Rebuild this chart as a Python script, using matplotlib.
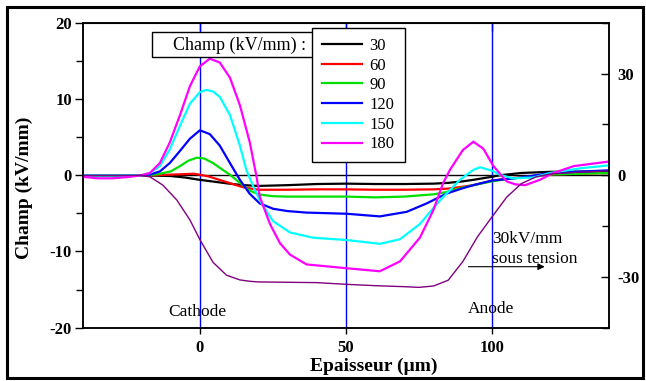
import matplotlib
matplotlib.use('Agg')
import matplotlib.pyplot as plt
from matplotlib.patches import Rectangle
from matplotlib.ticker import MultipleLocator

plt.rcParams['font.family'] = ['Liberation Serif', 'DejaVu Serif']
plt.rcParams['axes.unicode_minus'] = False

# Champ (kV/mm) en fonction de l'épaisseur (µm)
x30 = [-40, -20, -15, -10, -5, 0, 5, 10, 15, 20, 30, 40, 50, 60, 70, 80, 85, 90, 93.6, 100, 102.7, 110, 120, 140]
y30 = [0, 0, -0.05, -0.1, -0.3, -0.6, -0.85, -1.1, -1.3, -1.4, -1.3, -1.15, -1.1, -1.15, -1.15, -1.1, -1.0, -0.8, -0.6, -0.2, 0.0, 0.3, 0.45, 0.5]

x60 = [-40, -20, -15, -10, -5, -2, 0, 3, 5, 10, 15, 20, 30, 40, 50, 60, 70, 80, 85, 90, 93.6, 100, 105, 110, 120, 140]
y60 = [0, 0, 0.02, 0.08, 0.15, 0.2, 0.07, -0.15, -0.4, -1.0, -1.6, -1.9, -1.9, -1.85, -1.85, -1.9, -1.9, -1.85, -1.75, -1.5, -1.3, -0.7, -0.45, -0.25, 0.1, 0.3]

x90 = [-40, -20, -15, -10, -6.8, -4, -1.1, 1.5, 4.5, 7.5, 10.3, 13.7, 17, 20, 25, 30, 40, 50, 60, 70, 80, 84.5, 90, 93.6, 100, 105, 110, 120, 140]
y90 = [0, 0, 0.1, 0.5, 1.2, 1.9, 2.3, 2.2, 1.6, 0.8, 0.07, -1.0, -2.0, -2.5, -2.75, -2.8, -2.8, -2.8, -2.9, -2.8, -2.5, -2.2, -1.6, -1.3, -0.8, -0.5, -0.3, 0.1, 0.3]

x120 = [-40, -20, -17, -13.7, -10.3, -6.8, -3.4, 0, 3.4, 6.8, 10.3, 13.7, 17, 20.5, 25.1, 30, 36.5, 50.2, 61.6, 70.8, 77.6, 84.5, 90, 93.6, 100, 105, 110, 120, 140]
y120 = [0, 0, 0.1, 0.5, 1.6, 3.2, 4.8, 5.9, 5.4, 3.9, 1.6, -0.6, -2.4, -3.7, -4.4, -4.7, -4.9, -5.05, -5.4, -4.8, -3.7, -2.4, -1.7, -1.3, -0.7, -0.5, -0.3, 0.3, 0.65]

x150 = [-40, -20, -17, -13.7, -10.3, -6.8, -3.4, 0, 2.1, 4.5, 6.8, 10.3, 13.7, 15.9, 18.3, 20.5, 25, 30.8, 38.8, 50.2, 61.6, 68.5, 75.3, 82.2, 89, 93.6, 95.9, 100, 102.7, 107, 114, 120, 130, 140]
y150 = [0, 0, 0.3, 1.2, 3.4, 6.5, 9.4, 10.9, 11.2, 11.0, 10.3, 7.9, 3.9, 0.7, -1.5, -3.3, -6.0, -7.5, -8.2, -8.5, -9.0, -8.4, -6.4, -3.3, -0.6, 0.7, 1.05, 0.6, 0.07, -0.4, -0.3, 0.3, 0.9, 1.3]

x180 = [-40, -35, -30, -25, -20, -17.1, -13.7, -10.3, -6.8, -3.4, 0, 3.4, 6.8, 10.3, 13.7, 17.1, 19.4, 20.5, 24, 27.4, 30.8, 36.5, 50.2, 61.6, 68.5, 75.3, 79.9, 83.3, 85.6, 90, 93.6, 97, 100.5, 105, 108, 111.3, 116.4, 121, 128, 140]
y180 = [-0.2, -0.4, -0.4, -0.25, 0, 0.3, 1.6, 4.3, 7.9, 11.7, 14.3, 15.3, 14.8, 12.8, 9.2, 4.3, -0.2, -2.8, -6.4, -8.9, -10.4, -11.7, -12.2, -12.6, -11.3, -8.2, -4.6, -1.0, 0.7, 3.3, 4.4, 3.5, 1.2, -0.8, -1.2, -1.3, -0.6, 0.3, 1.2, 1.8]

# 30 kV/mm sous tension (axe de droite)
x_st = [-40, -20, -17, -12.7, -7.9, -3.4, 0, 4.5, 9.1, 13.7, 17, 20, 30, 40, 50, 60, 70, 75, 80, 85, 90, 95, 100, 105, 110, 115, 120, 130, 140]
y_st = [0, 0, -0.5, -2.9, -7.3, -13.2, -19, -25.7, -29.5, -30.9, -31.3, -31.5, -31.6, -31.7, -32.2, -32.6, -32.9, -33.1, -32.7, -31, -25.5, -18.2, -12.3, -6.5, -2.5, -0.5, 0.4, 0.9, 1.3]

series = [(x30, y30, '30', 'black'),
          (x60, y60, '60', '#ff0000'),
          (x90, y90, '90', '#00e000'),
          (x120, y120, '120', '#0000ff'),
          (x150, y150, '150', '#00ffff'),
          (x180, y180, '180', '#ff00ff')]

fig = plt.figure(figsize=(6.46, 3.81), dpi=100)
ax = fig.add_axes([0.1285, 0.140, 0.814, 0.800])

ax.axhline(0, color='black', lw=1.0, zorder=1)
for xv in [0, 50, 100]:
    ax.axvline(xv, color='#0000ff', lw=1.0, zorder=1)

for xs, ys, lab, col in series:
    ax.plot(xs, ys, color=col, lw=1.6, label=lab, zorder=3)

ax.set_xlim(-40, 140)
ax.set_ylim(-20, 20)
ax.set_xticks([0, 50, 100])
ax.set_yticks([-20, -10, 0, 10, 20])
ax.yaxis.set_minor_locator(MultipleLocator(5))
ax.tick_params(axis='y', which='major', direction='out', length=6, width=1, pad=2, labelsize=12)
ax.tick_params(axis='y', which='minor', direction='out', length=5, width=1)
ax.tick_params(axis='x', which='major', direction='out', length=4, width=1, pad=5, labelsize=12)
for t in ax.get_xticklabels() + ax.get_yticklabels():
    t.set_fontweight('bold')
for sp in ax.spines.values():
    sp.set_linewidth(1.1)

top = ax.secondary_xaxis('top')
top.set_xticks([0, 50, 100])
top.tick_params(direction='in', length=6, width=1, labeltop=False)

ax.set_xlabel('Epaisseur (µm)', fontsize=14, fontweight='bold')
ax.set_ylabel('Champ (kV/mm)', fontsize=14, fontweight='bold')
ax.xaxis.set_label_coords(0.553, -0.10)
ax.yaxis.set_label_coords(-0.095, 0.46)

ax2 = ax.twinx()
ax2.plot(x_st, y_st, color='#800080', lw=1.0, zorder=2)
ax2.set_ylim(-45, 45)
ax2.set_yticks([-30, 0, 30])
ax2.yaxis.set_minor_locator(MultipleLocator(15))
ax2.tick_params(axis='y', which='major', direction='in', length=6, width=1, pad=6, labelsize=12)
ax2.tick_params(axis='y', which='minor', direction='in', length=5, width=1)
for t in ax2.get_yticklabels():
    t.set_fontweight('bold')
for sp in ax2.spines.values():
    sp.set_linewidth(1.1)

# boîte "Champ (kV/mm) :" derrière la légende
ax2.add_patch(Rectangle((152 / 646, 1 - 57 / 381), 170 / 646, 25 / 381, transform=fig.transFigure,
                        fc='white', ec='black', lw=1.0, zorder=4, clip_on=False))
ax2.text(240 / 646, 1 - 45 / 381, 'Champ (kV/mm) :', transform=fig.transFigure, fontsize=13,
         ha='center', va='center', zorder=4.5)

leg = ax2.legend(*ax.get_legend_handles_labels(), loc='upper left',
                 bbox_to_anchor=(312 / 646, 1 - 28 / 381), bbox_transform=fig.transFigure,
                 fontsize=12, frameon=True, fancybox=False, edgecolor='black', framealpha=1,
                 handlelength=2.4, handletextpad=0.45, labelspacing=0.22,
                 borderpad=0.6, borderaxespad=0)
leg.get_frame().set_linewidth(1.0)
leg.set_zorder(6)

ax.text(-1, -17.9, 'Cathode', fontsize=12.5, ha='center', va='center')
ax.text(99.7, -17.5, 'Anode', fontsize=12.5, ha='center', va='center')
ax.text(100, -8.3, '30kV/mm', fontsize=12.5, ha='left', va='center')
ax.text(100, -11.0, 'sous tension', fontsize=12.5, ha='left', va='center')
ax.annotate('', xy=(119, -12.0), xytext=(91, -12.0),
            arrowprops=dict(arrowstyle='-|>', color='black', lw=0.8, mutation_scale=10))

fig.patches.append(Rectangle((7 / 646, 3 / 381), 636 / 646, 371 / 381, transform=fig.transFigure,
                             fill=False, ec='black', lw=2.2))

fig.savefig('out.png', dpi=100)
